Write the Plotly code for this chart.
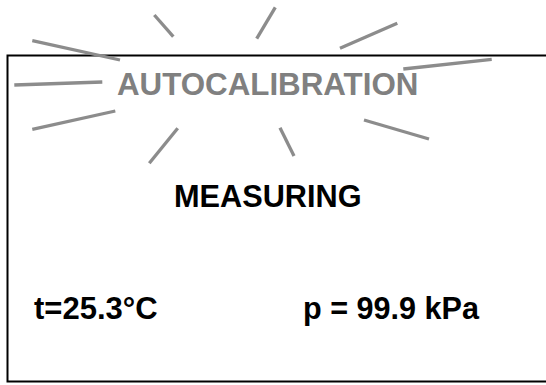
import plotly.graph_objects as go

# Ray segments (start/end coordinates, pixel space of the 546x385 picture)
ray_x0 = [32.3, 154.3, 275.3, 397.3, 491.7, 14.3, 32.3, 177.7, 280.0, 364.0]
ray_y0 = [40.7, 15.0, 7.3, 23.3, 59.3, 85.0, 129.3, 128.3, 127.7, 120.0]
ray_x1 = [120.0, 173.3, 256.7, 340.0, 403.3, 102.3, 115.3, 149.3, 294.0, 429.0]
ray_y1 = [60.0, 36.7, 38.7, 48.3, 69.0, 82.0, 111.0, 163.3, 156.0, 139.0]

# Text labels
labels = ["AUTOCALIBRATION", "MEASURING", "t=25.3°C", "p = 99.9 kPa"]
label_x = [267, 268, 96, 391]
label_y = [84, 196, 308, 308]
label_colors = ["#808080", "#000000", "#000000", "#000000"]
label_sizes = [31.3, 30.7, 31, 30.6]

# Display box
box = dict(x0=7.5, y0=55.5, x1=552, y1=381.5)

fig = go.Figure()

fig.add_shape(type="rect", x0=box["x0"], y0=box["y0"], x1=box["x1"], y1=box["y1"],
              line=dict(color="black", width=2), layer="below")

xs, ys = [], []
for a, b, c, d in zip(ray_x0, ray_y0, ray_x1, ray_y1):
    xs += [a, c, None]
    ys += [b, d, None]
fig.add_trace(go.Scatter(x=xs, y=ys, mode="lines",
                         line=dict(color="#8c8c8c", width=3.3),
                         hoverinfo="skip", showlegend=False))

for t, x, y, c, s in zip(labels, label_x, label_y, label_colors, label_sizes):
    fig.add_annotation(x=x, y=y, text=f"<b>{t}</b>", showarrow=False,
                       xanchor="center", yanchor="middle",
                       font=dict(family="Liberation Sans, Arial", size=s, color=c))

fig.update_layout(
    width=546, height=385,
    margin=dict(l=0, r=0, t=0, b=0),
    paper_bgcolor="white", plot_bgcolor="white",
    xaxis=dict(range=[0, 546], visible=False, fixedrange=True),
    yaxis=dict(range=[385, 0], visible=False, fixedrange=True),
    showlegend=False,
)

fig.write_html("out.html", config={"displayModeBar": False},
               post_script="document.body.style.margin='0';document.body.style.overflow='hidden';")
